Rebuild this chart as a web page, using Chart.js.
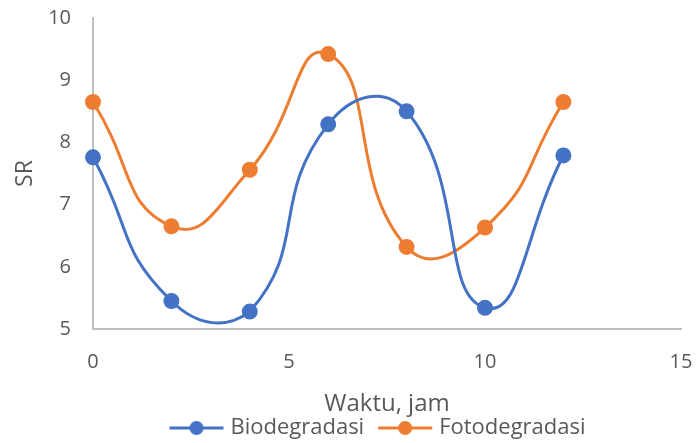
<!DOCTYPE html>
<html>
<head>
<meta charset="utf-8">
<script src="https://cdn.jsdelivr.net/npm/chart.js@4/dist/chart.umd.min.js"></script>
<style>
  html, body { margin: 0; padding: 0; background: #fff; }
  #wrap { width: 697px; height: 443px; }
</style>
</head>
<body>
<div id="wrap"><canvas id="srChart"></canvas></div>
<script>
// waktu (jam)
const hours = [0, 2, 4, 6, 8, 10, 12];
const bioSR = [7.76, 5.45, 5.28, 8.29, 8.50, 5.34, 7.79];
const fotoSR = [8.65, 6.65, 7.56, 9.42, 6.32, 6.63, 8.65];
const xTicks = [0, 5, 10, 15];
const yTicks = [5, 6, 7, 8, 9, 10];

const BLUE = '#4472c4';
const ORANGE = '#ed7d31';
const GREY = '#595959';
const FONT = "'Open Sans', sans-serif";

function toPoints(xs, ys) {
    return xs.map((x, i) => ({ x: x, y: ys[i] }));
}

// legend marker: line with a dot in the middle (drawn a bit to the right so it hugs the text)
function legendMarker(color) {
    const c = document.createElement('canvas');
    c.width = 68; c.height = 16;
    const ctx = c.getContext('2d');
    ctx.strokeStyle = color;
    ctx.lineWidth = 3;
    ctx.beginPath();
    ctx.moveTo(12, 8); ctx.lineTo(66, 8);
    ctx.stroke();
    ctx.fillStyle = color;
    ctx.beginPath();
    ctx.arc(39, 8, 7, 0, Math.PI * 2);
    ctx.fill();
    return c;
}

// nudge the legend to sit under the plot area, like excel does
const legendShift = {
    id: 'legendShift',
    afterLayout(chart) {
        chart.legend.left += 34;
        chart.legend.right += 34;
    }
};

new Chart(document.getElementById('srChart'), {
    type: 'scatter',
    data: {
        datasets: [{
            label: 'Biodegradasi',
            data: toPoints(hours, bioSR),
            borderColor: BLUE,
            backgroundColor: BLUE,
            showLine: true,
            tension: 0.52,
            borderWidth: 3,
            pointRadius: 6.5,
            pointHoverRadius: 6.5,
            clip: false
        }, {
            label: 'Fotodegradasi',
            data: toPoints(hours, fotoSR),
            borderColor: ORANGE,
            backgroundColor: ORANGE,
            showLine: true,
            tension: 0.52,
            borderWidth: 3,
            pointRadius: 6.5,
            pointHoverRadius: 6.5,
            clip: false
        }]
    },
    options: {
        responsive: true,
        maintainAspectRatio: false,
        animation: false,
        layout: { padding: { top: 18, right: 16, left: 0, bottom: -6 } },
        plugins: {
            tooltip: { enabled: false },
            legend: {
                position: 'bottom',
                labels: {
                    color: GREY,
                    font: { family: FONT, size: 22 },
                    usePointStyle: true,
                    pointStyleWidth: 56,
                    padding: 8,
                    generateLabels: function (chart) {
                        return chart.data.datasets.map((ds, i) => ({
                            text: ds.label,
                            datasetIndex: i,
                            pointStyle: legendMarker(ds.borderColor),
                            fillStyle: ds.borderColor,
                            strokeStyle: ds.borderColor,
                            lineWidth: 0,
                            fontColor: GREY
                        }));
                    }
                }
            }
        },
        scales: {
            x: {
                type: 'linear',
                min: 0,
                max: 15,
                afterBuildTicks: function (axis) {
                    axis.ticks = xTicks.map(v => ({ value: v }));
                },
                grid: { display: false, drawTicks: false },
                border: { color: '#bfbfbf', width: 2 },
                ticks: { color: GREY, font: { family: FONT, size: 20 }, padding: 21 },
                title: {
                    display: true,
                    text: 'Waktu, jam',
                    color: GREY,
                    font: { family: FONT, size: 24 },
                    padding: { top: 0, bottom: -10 }
                },
                afterFit: function (axis) {
                    axis.height = 80;
                    axis.paddingLeft = 0;
                    axis.paddingRight = 0;
                }
            },
            y: {
                min: 5,
                max: 10,
                afterBuildTicks: function (axis) {
                    axis.ticks = yTicks.map(v => ({ value: v }));
                },
                grid: { display: false, drawTicks: false },
                border: { color: '#bfbfbf', width: 2 },
                ticks: { color: GREY, font: { family: FONT, size: 20 }, padding: 22 },
                title: {
                    display: true,
                    text: 'SR',
                    color: GREY,
                    font: { family: FONT, size: 23 },
                    padding: { top: 12, bottom: 0 }
                },
                afterFit: function (axis) {
                    axis.width = 93;
                    axis.paddingTop = 0;
                    axis.paddingBottom = 0;
                }
            }
        }
    },
    plugins: [legendShift]
});
</script>
</body>
</html>
